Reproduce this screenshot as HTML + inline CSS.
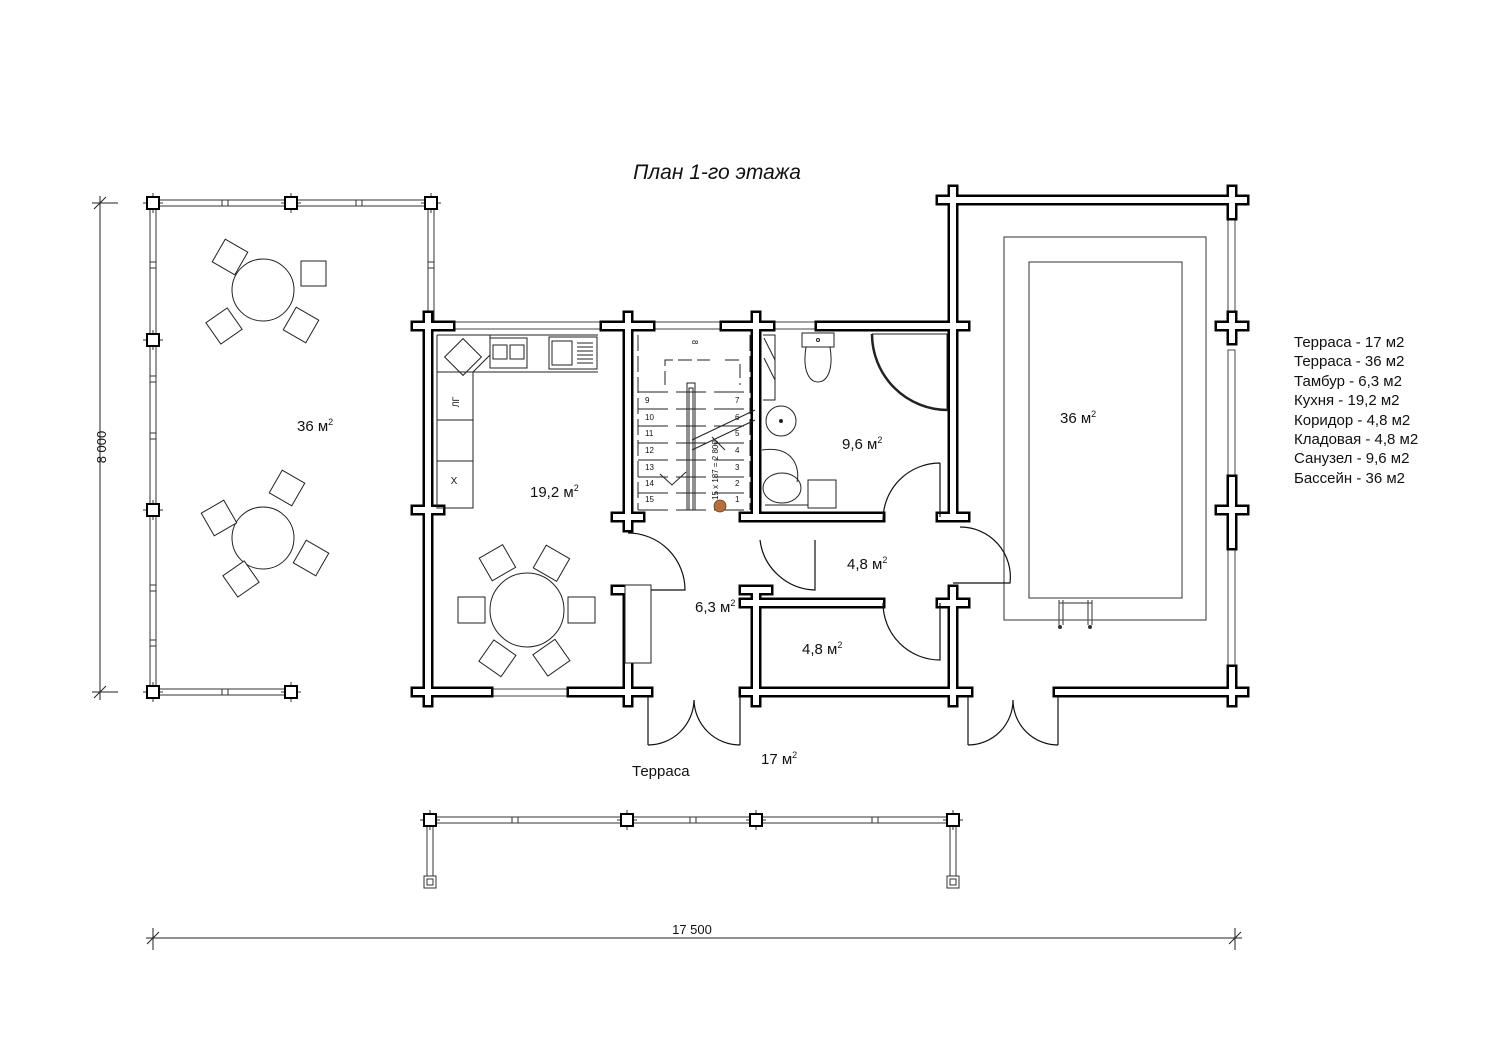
<!DOCTYPE html>
<html><head><meta charset="utf-8"><style>
html,body{margin:0;padding:0;background:#fff}
svg{display:block}
text{font-family:"Liberation Sans",sans-serif;fill:#111}
</style></head><body>
<svg width="1500" height="1060" viewBox="0 0 1500 1060" xmlns="http://www.w3.org/2000/svg">
<defs>
<path id="w" d="
M428 316V702 M416 326H450 M416 510H440 M416 692H488
M605 326H650 M725 326H770 M820 326H953
M616 326H640 M744 326H768
M628 316V517 M616 517H640 M628 527V517
M628 590V702 M616 692H648 M616 590H640
M756 316V517 M744 517H880 M756 590V702 M744 603H880 M744 692H968 M744 590H768
M953 190V517 M941 200H1244 M941 326H965 M941 517H965 M953 590V702 M941 603H965 M941 692H965
M1232 190V215 M1232 316V340 M1220 326H1244 M1232 480V545 M1220 510H1244 M1232 670V702 M1058 692H1244
M572 692H648"/>
</defs>
<rect width="1500" height="1060" fill="#fff"/>
<text x="717" y="179" font-size="21" font-style="italic" text-anchor="middle">План 1-го этажа</text>

<!-- left terrace rails -->
<g fill="#fff" stroke="#333" stroke-width="1">
<rect x="153" y="200" width="278" height="6"/>
<rect x="150" y="203" width="6" height="489"/>
<rect x="428" y="203" width="6" height="120"/>
<rect x="153" y="689" width="138" height="6"/>
<rect x="430" y="817" width="523" height="6"/>
<rect x="427" y="820" width="6" height="60"/>
<rect x="950" y="820" width="6" height="60"/>
<rect x="424" y="876" width="12" height="12"/>
<rect x="427" y="879" width="6" height="6"/>
<rect x="947" y="876" width="12" height="12"/>
<rect x="950" y="879" width="6" height="6"/>
</g>
<g stroke="#333" stroke-width="1">
<path d="M222 200v6M228 200v6M356 200v6M362 200v6M150 262h6M150 268h6M150 376h6M150 382h6M150 433h6M150 439h6M150 585h6M150 591h6M150 640h6M150 646h6M428 262h6M428 268h6M222 689v6M228 689v6M512 817v6M518 817v6M690 817v6M696 817v6M872 817v6M878 817v6"/>
<path d="M143 203h20M153 193v20M281 203h20M291 193v20M421 203h20M431 193v20M143 340h20M153 330v20M143 510h20M153 500v20M143 692h20M153 682v20M281 692h20M291 682v20M420 820h20M430 810v20M617 820h20M627 810v20M746 820h20M756 810v20M943 820h20M953 810v20"/>
</g>
<g fill="#fff" stroke="#000" stroke-width="2">
<rect x="147" y="197" width="12" height="12"/><rect x="285" y="197" width="12" height="12"/><rect x="425" y="197" width="12" height="12"/>
<rect x="147" y="334" width="12" height="12"/><rect x="147" y="504" width="12" height="12"/><rect x="147" y="686" width="12" height="12"/><rect x="285" y="686" width="12" height="12"/>
<rect x="424" y="814" width="12" height="12"/><rect x="621" y="814" width="12" height="12"/><rect x="750" y="814" width="12" height="12"/><rect x="947" y="814" width="12" height="12"/>
</g>

<!-- windows -->
<g fill="#fff" stroke="#444" stroke-width="1">
<rect x="440" y="322" width="170" height="7"/>
<rect x="645" y="322" width="85" height="7"/>
<rect x="765" y="322" width="60" height="7"/>
<rect x="484" y="689" width="92" height="7"/>
<rect x="1228" y="210" width="7" height="120"/>
<rect x="1228" y="350" width="7" height="130"/>
<rect x="1228" y="540" width="7" height="130"/>
</g>

<!-- walls -->
<g fill="none" stroke-linecap="square">
<use href="#w" stroke="#000" stroke-width="11"/>
<use href="#w" stroke="#fff" stroke-width="6"/>
</g>

<!-- pool -->
<g fill="none" stroke="#555" stroke-width="1.2">
<rect x="1004" y="237" width="202" height="383"/>
<rect x="1029" y="262" width="153" height="336"/>
<path d="M1059 600V625M1063 600V625M1088 600V625M1092 600V625M1059 603H1092"/>
</g>
<circle cx="1060" cy="627" r="2" fill="#333"/><circle cx="1090" cy="627" r="2" fill="#333"/>

<!-- doors -->
<g fill="none" stroke="#111" stroke-width="1.2">
<path d="M628 533A57 57 0 0 1 685 590H628"/>
<path d="M815 540V590A57 57 0 0 1 760 540"/>
<path d="M940 463V517M940 463A57 57 0 0 0 883 520"/>
<path d="M883 603A57 57 0 0 0 940 660V603"/>
<path d="M960 527A50 50 0 0 1 1010 583H953"/>
<path d="M648 697V745M740 697V745M648 745A46 46 0 0 0 694 700M740 745A46 46 0 0 1 694 700"/>
<path d="M968 697V745M1058 697V745M968 745A45 45 0 0 0 1013 700M1058 745A45 45 0 0 1 1013 700"/>
</g>

<!-- kitchen -->
<g fill="none" stroke="#222" stroke-width="1">
<path d="M437 335H598M437 372H598M437 335V508H473V372"/>
<path d="M473 372L490 355V335"/>
<path d="M437 420H473M437 461H473"/>
<rect x="450" y="344" width="26" height="26" transform="rotate(45 463 357)"/>
<rect x="490" y="338" width="37" height="30"/>
<rect x="493" y="345" width="14" height="14"/><rect x="510" y="345" width="14" height="14"/>
<rect x="549" y="337" width="48" height="32"/><rect x="552" y="341" width="20" height="24"/>
<path d="M577 343H593M577 347H593M577 351H593M577 355H593M577 359H593M577 363H593"/>
<circle cx="527" cy="610" r="37"/>
<circle cx="263" cy="290" r="31"/>
<circle cx="263" cy="538" r="31"/>
</g>
<g fill="#fff" stroke="#222" stroke-width="1">
<rect x="458" y="597" width="27" height="26"/><rect x="568" y="597" width="27" height="26"/>
<rect x="484" y="550" width="27" height="26" transform="rotate(-30 497 563)"/>
<rect x="538" y="550" width="27" height="26" transform="rotate(30 551 563)"/>
<rect x="484" y="645" width="27" height="26" transform="rotate(35 497 658)"/>
<rect x="538" y="645" width="27" height="26" transform="rotate(-35 551 658)"/>
<rect x="301" y="261" width="25" height="25"/>
<rect x="217" y="244" width="26" height="26" transform="rotate(30 230 257)"/>
<rect x="211" y="313" width="26" height="26" transform="rotate(-35 224 326)"/>
<rect x="288" y="312" width="26" height="26" transform="rotate(30 301 325)"/>
<rect x="274" y="475" width="26" height="26" transform="rotate(30 287 488)"/>
<rect x="206" y="505" width="26" height="26" transform="rotate(-30 219 518)"/>
<rect x="298" y="545" width="26" height="26" transform="rotate(30 311 558)"/>
<rect x="228" y="566" width="26" height="26" transform="rotate(-35 241 579)"/>
<rect x="625" y="585" width="26" height="78"/>
</g>
<text x="455" y="406" font-size="9" transform="rotate(-90 455 402)" text-anchor="middle">ЛГ</text>
<text x="454" y="484" font-size="10" text-anchor="middle">X</text>

<!-- stairs -->
<g fill="none" stroke="#222" stroke-width="1">
<path d="M638 335V510M750 335V510" stroke-dasharray="16 5"/>
<path d="M665 385V360H710M725 360H740V385" stroke-dasharray="14 5"/>
<path d="M638 392H752M638 409H752M638 426H752M638 443H752M638 460H752M638 477H752M638 493H752M638 510H752" stroke-dasharray="30 8"/>
<rect x="687" y="383" width="8" height="127"/><rect x="689" y="388" width="4" height="122"/>
<path d="M692 450L755 420M692 440L755 410M660 474L672 485L686 472M712 437L725 450"/>
</g>
<g font-size="8">
<text x="645" y="403">9</text><text x="645" y="420">10</text><text x="645" y="436">11</text><text x="645" y="453">12</text><text x="645" y="470">13</text><text x="645" y="486">14</text><text x="645" y="502">15</text>
<text x="735" y="403">7</text><text x="735" y="420">6</text><text x="735" y="436">5</text><text x="735" y="453">4</text><text x="735" y="470">3</text><text x="735" y="486">2</text><text x="735" y="502">1</text>
<text x="692" y="340" transform="rotate(90 692 340)">8</text>
<text x="718" y="500" transform="rotate(-90 718 500)">15 x 187 = 2 800</text>
</g>
<circle cx="720" cy="506" r="6" fill="#b5703d" stroke="#6b3b1a" stroke-width="0.8"/>

<!-- bathroom -->
<g fill="none" stroke="#222" stroke-width="1">
<path d="M763 335H775V400H763"/>
<path d="M764 338L775 360M764 358L775 380"/>
<rect x="802" y="333" width="32" height="14"/>
<path d="M806 347C802 372 810 382 818 382S834 372 830 347"/>
<circle cx="818" cy="340" r="1.5"/>
<path d="M872 334H947V410"/>
<path d="M872 334A76 76 0 0 0 948 410" stroke-width="2.5"/>
<circle cx="781" cy="421" r="15"/><circle cx="781" cy="421" r="1.5" fill="#222"/>
<ellipse cx="782" cy="488" rx="19" ry="15"/>
<path d="M762 450C795 445 800 470 797 482"/>
<rect x="808" y="480" width="28" height="28"/>
<path d="M765 505H808"/>
</g>

<!-- room labels -->
<g font-size="15">
<text x="297" y="431">36 м<tspan font-size="9" dy="-6">2</tspan></text>
<text x="530" y="497">19,2 м<tspan font-size="9" dy="-6">2</tspan></text>
<text x="842" y="449">9,6 м<tspan font-size="9" dy="-6">2</tspan></text>
<text x="847" y="569">4,8 м<tspan font-size="9" dy="-6">2</tspan></text>
<text x="695" y="612">6,3 м<tspan font-size="9" dy="-6">2</tspan></text>
<text x="802" y="654">4,8 м<tspan font-size="9" dy="-6">2</tspan></text>
<text x="1060" y="423">36 м<tspan font-size="9" dy="-6">2</tspan></text>
<text x="761" y="764">17 м<tspan font-size="9" dy="-6">2</tspan></text>
<text x="632" y="776">Терраса</text>
</g>

<!-- legend -->
<g font-size="15">
<text x="1294" y="347">Терраса - 17 м2</text>
<text x="1294" y="366">Терраса - 36 м2</text>
<text x="1294" y="386">Тамбур - 6,3 м2</text>
<text x="1294" y="405">Кухня - 19,2 м2</text>
<text x="1294" y="425">Коридор - 4,8 м2</text>
<text x="1294" y="444">Кладовая - 4,8 м2</text>
<text x="1294" y="463">Санузел - 9,6 м2</text>
<text x="1294" y="483">Бассейн - 36 м2</text>
</g>

<!-- dimensions -->
<g stroke="#222" stroke-width="1">
<path d="M100 196V700M92 203H118M92 692H118M94 209L106 197M94 698L106 686"/>
<path d="M146 938H1242M153 928V950M1235 928V950M147 944L159 932M1229 944L1241 932"/>
</g>
<text x="106" y="447" font-size="13" transform="rotate(-90 106 447)" text-anchor="middle">8 000</text>
<text x="692" y="934" font-size="13" text-anchor="middle">17 500</text>
</svg>
</body></html>
